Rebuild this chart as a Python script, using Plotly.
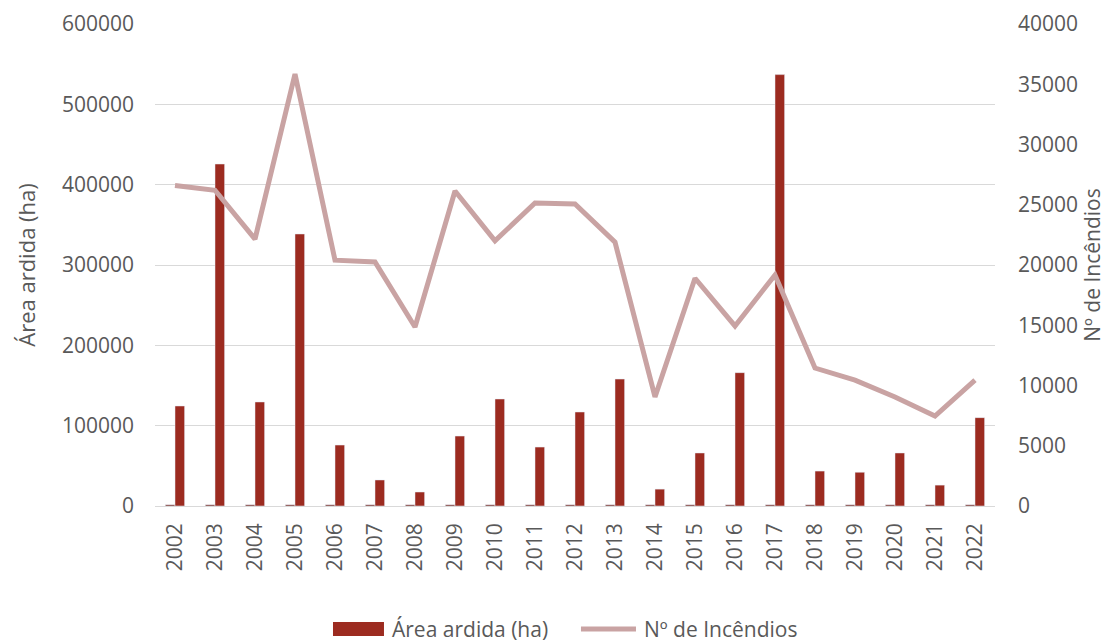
import plotly.graph_objects as go

anos = [str(a) for a in range(2002, 2023)]

area_ardida = [124500, 425700, 129500, 338600, 75900, 32400, 17400, 87100, 133200, 73400,
               117000, 158000, 21000, 66000, 166000, 537000, 43500, 42000, 66000, 26000, 110000]

n_incendios = [26600, 26200, 22150, 35850, 20400, 20250, 14850, 26140, 22000, 25150,
               25060, 21900, 9050, 18900, 14940, 19170, 11450, 10450, 9050, 7470, 10450]

# small dark series sitting beside each red bar (barely visible in the original)
serie_oculta = [1500] * 21

cinza = "#595959"
vermelho = "#9C2B20"
rosa = "#C9A3A3"

fig = go.Figure()
fig.add_trace(go.Bar(x=anos, y=serie_oculta, marker_color="#6E1C14", showlegend=False,
                     hoverinfo="skip"))
fig.add_trace(go.Bar(x=anos, y=area_ardida, name="Área ardida (ha)", marker_color=vermelho,
                     showlegend=False))
fig.add_trace(go.Scatter(x=anos, y=n_incendios, name="Nº de Incêndios", mode="lines",
                         line=dict(color=rosa, width=5), yaxis="y2", showlegend=False))

# legend drawn by hand so the bar key is a wide rectangle like the original
ly = -0.2552
fig.add_shape(type="rect", xref="paper", yref="paper", x0=0.2119, x1=0.2726,
              y0=ly - 0.0146, y1=ly + 0.0146, fillcolor=vermelho, line_width=0)
fig.add_shape(type="line", xref="paper", yref="paper", x0=0.5071, x1=0.5726,
              y0=ly, y1=ly, line=dict(color=rosa, width=5))
fig.add_annotation(text="Área ardida (ha)", xref="paper", yref="paper", x=0.2798, y=ly,
                   xanchor="left", yanchor="middle", showarrow=False,
                   font=dict(size=21, color=cinza))
fig.add_annotation(text="Nº de Incêndios", xref="paper", yref="paper", x=0.5798, y=ly,
                   xanchor="left", yanchor="middle", showarrow=False,
                   font=dict(size=21, color=cinza))

fig.update_layout(
    width=1102, height=636,
    margin=dict(l=147, r=115, t=16, b=138),
    paper_bgcolor="white", plot_bgcolor="white",
    font=dict(family="Open Sans", size=21, color=cinza),
    barmode="group", bargap=0.52, bargroupgap=0,
    showlegend=False,
    xaxis=dict(type="category", tickangle=-90, showgrid=False, ticks="",
               tickfont=dict(size=21), ticklabelstandoff=12, automargin=False),
    yaxis=dict(range=[0, 600000], dtick=100000, showgrid=True, gridcolor="#D9D9D9",
               gridwidth=1, zeroline=True, zerolinecolor="#D9D9D9", zerolinewidth=1,
               title=dict(text="Área ardida (ha)", standoff=20, font=dict(size=22)),
               ticks="", tickformat="d", ticklabelstandoff=20, automargin=False),
    yaxis2=dict(range=[0, 40000], dtick=5000, overlaying="y", side="right", showgrid=False,
                zeroline=False, title=dict(text="Nº de Incêndios", standoff=4,
                                           font=dict(size=21)),
                ticks="", tickformat="d", ticklabelstandoff=22, automargin=False),
)

fig.write_html("out.html")
